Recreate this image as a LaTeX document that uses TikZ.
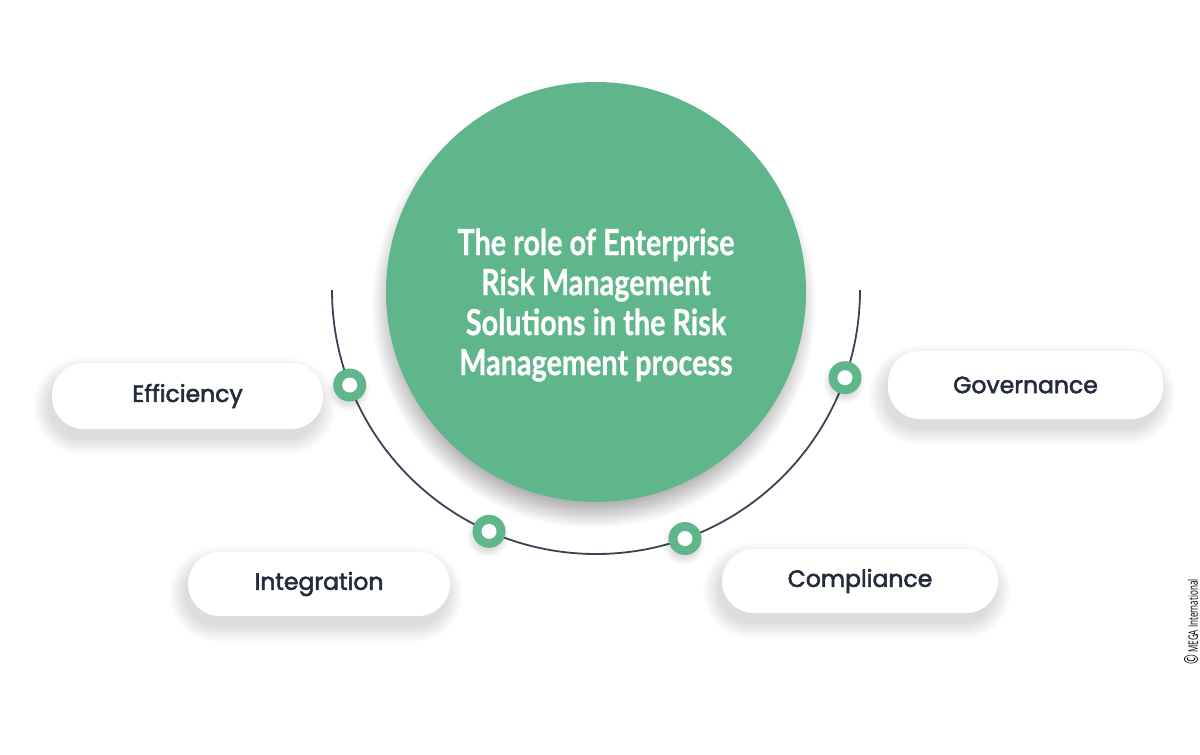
\documentclass[tikz,border=0pt]{standalone}
\usepackage{fontspec}
\usetikzlibrary{calc}
\newfontfamily\labfont[FakeBold=2.4]{Poppins}
\newfontfamily\titlefont[FakeStretch=0.8, FakeBold=0.6]{Lato}
\newfontfamily\copyfont[FakeStretch=0.62]{Open Sans}
\definecolor{mgreen}{HTML}{5FB68B}
\definecolor{mnavy}{HTML}{242B3D}
\definecolor{marc}{HTML}{3C4255}
\newcommand\pillshadow[4]{%
  \foreach \i in {0,...,16}{%
    \fill[black,opacity=0.009,rounded corners={#4/2+\i}]
      ({#1-#3/2-\i-3},{#2-#4/2-\i+10}) rectangle ({#1+#3/2+\i-3},{#2+#4/2+\i+10});
  }}
\newcommand\roundshadow[4]{%
  \foreach \i in {0,...,#4}{%
    \fill[black,opacity=0.012] (#1,#2) circle[radius={#3+\i}];
  }}
\newcommand\dotshadow[1]{%
  \foreach \i in {0,...,7}{%
    \fill[black,opacity=0.016] ($(#1)+(-1,5)$) circle[radius={14+\i}];
  }}
\tikzset{
  pill/.style={fill=white, rounded corners=32pt, inner sep=0pt,
    font=\labfont\fontsize{23.5}{28}\selectfont, text=mnavy},
  dot/.style={circle, fill=mgreen, minimum size=33pt, inner sep=0pt},
  dothole/.style={circle, fill=white, minimum size=15pt, inner sep=0pt},
  ring/.style={draw=marc, line width=1.8pt},
}
\begin{document}
\begin{tikzpicture}[x=1pt,y=-1pt]
\useasboundingbox[fill=white] (0,0) rectangle (1200,755);

% shadows
\roundshadow{594}{306}{198}{24}
\pillshadow{187.5}{396}{271}{66}
\pillshadow{319}{584}{262}{64}
\pillshadow{1025.5}{385}{275}{68}
\pillshadow{860}{581}{276}{64}

% big circle
\node[circle, fill=mgreen, minimum size=420pt, inner sep=0pt] (main) at (596,292) {};
\node[text=white, align=center, font=\titlefont\bfseries\fontsize{36}{40}\selectfont]
  (title) at (596,305) {The role of Enterprise\\Risk Management\\Solutions in the Risk\\Management process};

% arc
\coordinate (ac) at (596,290);
\coordinate (arcL) at ($(ac)+(180:264)$);
\coordinate (arcR) at ($(ac)+(0:264)$);
\draw[ring] (arcL) arc[start angle=180, end angle=360, radius=264pt];

% pills
\node[pill, minimum width=271pt, minimum height=66pt] (eff) at (187.5,396) {\raisebox{-1pt}{Efficiency}};
\node[pill, minimum width=262pt, minimum height=64pt] (int) at (319,584) {\raisebox{-1pt}{Integration}};
\node[pill, minimum width=275pt, minimum height=68pt] (gov) at (1025.5,385) {Governance};
\node[pill, minimum width=276pt, minimum height=64pt] (com) at (860,581) {\raisebox{-1pt}{Compliance}};

% dots
\foreach \n/\a in {d1/158.9, d2/113.9, d3/70.3, d4/19.4}{
  \coordinate (\n c) at ($(ac)+(\a:264)$);
}
\dotshadow{d1c}\dotshadow{d2c}\dotshadow{d3c}\dotshadow{d4c}
\foreach \n in {d1,d2,d3,d4}{
  \node[dot] (\n) at (\n c) {};
  \node[dothole] at (\n) {};
}

% copyright
\node[rotate=90, text=black, font=\copyfont\fontsize{13}{15}\selectfont] (copy) at (1191,622)
  {{\fontsize{19}{19}\selectfont\textcopyright}\,MEGA International};
\end{tikzpicture}
\end{document}
